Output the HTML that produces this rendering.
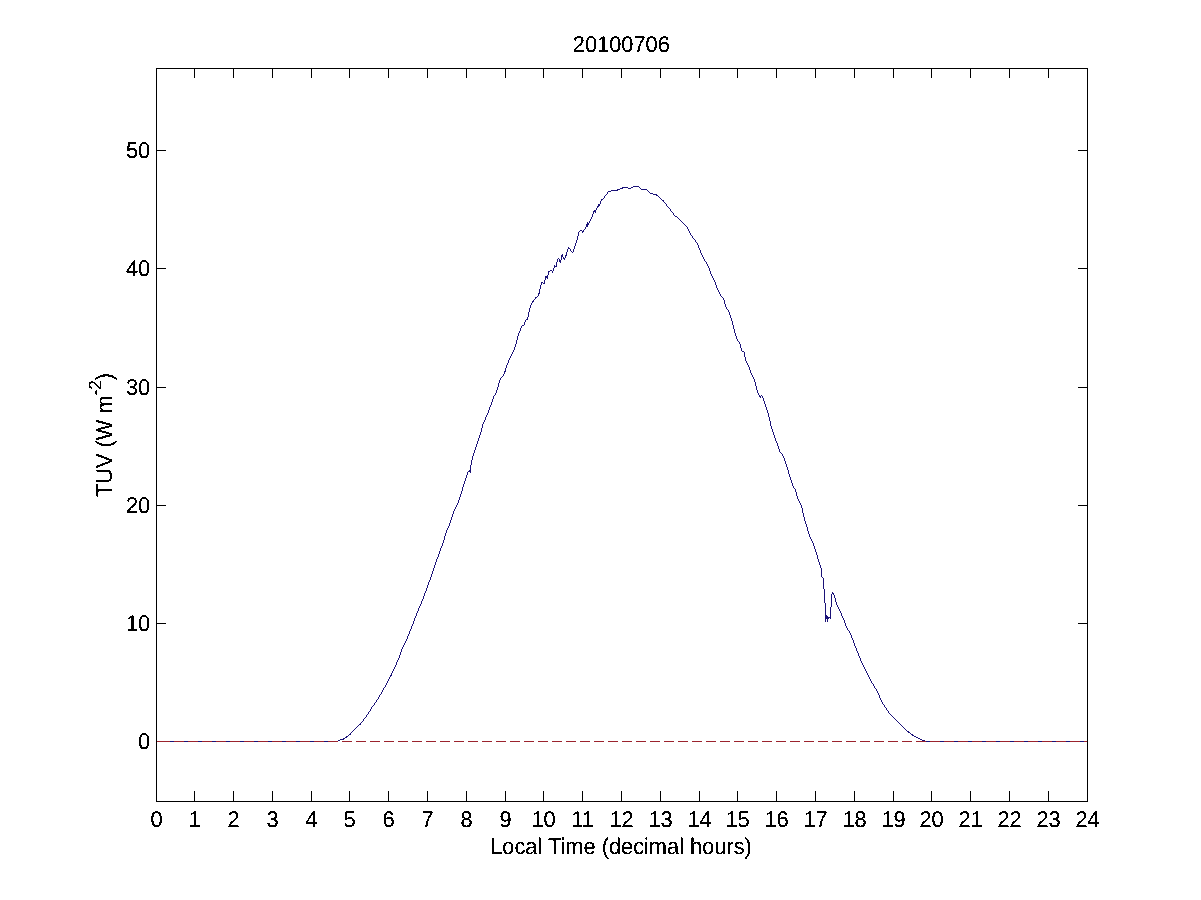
<!DOCTYPE html>
<html><head><meta charset="utf-8"><title>20100706</title>
<style>
html,body{margin:0;padding:0;background:#fff;}
body{width:1201px;height:900px;overflow:hidden;}
svg{display:block;}
text{font-family:"Liberation Sans",sans-serif;font-size:21.8px;fill:#000;text-rendering:geometricPrecision;}
</style></head><body>
<svg width="1201" height="900" viewBox="0 0 1201 900">
<rect x="0" y="0" width="1201" height="900" fill="#fff"/>
<g shape-rendering="crispEdges" fill="#000">
<rect x="156" y="68" width="932" height="1"/>
<rect x="156" y="801" width="932" height="1"/>
<rect x="156" y="68" width="1" height="734"/>
<rect x="1087" y="68" width="1" height="734"/>
<rect x="194" y="69" width="1" height="9"/>
<rect x="194" y="791" width="1" height="10"/>
<rect x="233" y="69" width="1" height="9"/>
<rect x="233" y="791" width="1" height="10"/>
<rect x="272" y="69" width="1" height="9"/>
<rect x="272" y="791" width="1" height="10"/>
<rect x="311" y="69" width="1" height="9"/>
<rect x="311" y="791" width="1" height="10"/>
<rect x="349" y="69" width="1" height="9"/>
<rect x="349" y="791" width="1" height="10"/>
<rect x="388" y="69" width="1" height="9"/>
<rect x="388" y="791" width="1" height="10"/>
<rect x="427" y="69" width="1" height="9"/>
<rect x="427" y="791" width="1" height="10"/>
<rect x="466" y="69" width="1" height="9"/>
<rect x="466" y="791" width="1" height="10"/>
<rect x="505" y="69" width="1" height="9"/>
<rect x="505" y="791" width="1" height="10"/>
<rect x="543" y="69" width="1" height="9"/>
<rect x="543" y="791" width="1" height="10"/>
<rect x="582" y="69" width="1" height="9"/>
<rect x="582" y="791" width="1" height="10"/>
<rect x="621" y="69" width="1" height="9"/>
<rect x="621" y="791" width="1" height="10"/>
<rect x="660" y="69" width="1" height="9"/>
<rect x="660" y="791" width="1" height="10"/>
<rect x="699" y="69" width="1" height="9"/>
<rect x="699" y="791" width="1" height="10"/>
<rect x="737" y="69" width="1" height="9"/>
<rect x="737" y="791" width="1" height="10"/>
<rect x="776" y="69" width="1" height="9"/>
<rect x="776" y="791" width="1" height="10"/>
<rect x="815" y="69" width="1" height="9"/>
<rect x="815" y="791" width="1" height="10"/>
<rect x="854" y="69" width="1" height="9"/>
<rect x="854" y="791" width="1" height="10"/>
<rect x="893" y="69" width="1" height="9"/>
<rect x="893" y="791" width="1" height="10"/>
<rect x="931" y="69" width="1" height="9"/>
<rect x="931" y="791" width="1" height="10"/>
<rect x="970" y="69" width="1" height="9"/>
<rect x="970" y="791" width="1" height="10"/>
<rect x="1009" y="69" width="1" height="9"/>
<rect x="1009" y="791" width="1" height="10"/>
<rect x="1048" y="69" width="1" height="9"/>
<rect x="1048" y="791" width="1" height="10"/>
<rect x="157" y="741" width="9" height="1"/>
<rect x="1078" y="741" width="9" height="1"/>
<rect x="157" y="623" width="9" height="1"/>
<rect x="1078" y="623" width="9" height="1"/>
<rect x="157" y="505" width="9" height="1"/>
<rect x="1078" y="505" width="9" height="1"/>
<rect x="157" y="387" width="9" height="1"/>
<rect x="1078" y="387" width="9" height="1"/>
<rect x="157" y="268" width="9" height="1"/>
<rect x="1078" y="268" width="9" height="1"/>
<rect x="157" y="150" width="9" height="1"/>
<rect x="1078" y="150" width="9" height="1"/>
</g>
<path fill="#1a1278" shape-rendering="crispEdges" d="M157 741h181v1h-181zM338 740h2v1h-2zM340 739h3v1h-3zM343 738h1v2h-1zM344 738h1v1h-1zM345 737h1v1h-1zM346 736h1v2h-1zM347 736h1v1h-1zM348 735h1v1h-1zM349 734h1v1h-1zM350 733h1v2h-1zM351 732h1v1h-1zM352 731h1v1h-1zM353 730h1v1h-1zM354 729h1v1h-1zM355 728h1v1h-1zM356 727h1v1h-1zM357 726h1v1h-1zM358 725h1v1h-1zM359 724h1v1h-1zM360 723h1v2h-1zM361 722h1v1h-1zM362 721h1v1h-1zM363 719h1v2h-1zM364 718h1v1h-1zM365 717h1v1h-1zM366 715h1v2h-1zM367 714h1v1h-1zM368 712h1v2h-1zM369 711h1v1h-1zM370 709h1v2h-1zM371 707h1v2h-1zM372 706h1v1h-1zM373 705h1v1h-1zM374 703h1v2h-1zM375 702h1v1h-1zM376 700h1v2h-1zM377 699h1v1h-1zM378 697h1v2h-1zM379 695h1v2h-1zM380 694h1v1h-1zM381 692h1v2h-1zM382 690h1v2h-1zM383 688h1v2h-1zM384 687h1v1h-1zM385 685h1v2h-1zM386 683h1v2h-1zM387 681h1v2h-1zM388 679h1v2h-1zM389 677h1v2h-1zM390 675h1v2h-1zM391 673h1v3h-1zM392 671h1v2h-1zM393 669h1v2h-1zM394 667h1v2h-1zM395 665h1v2h-1zM396 662h1v3h-1zM397 660h1v2h-1zM398 658h1v2h-1zM399 655h1v3h-1zM400 652h1v3h-1zM401 649h1v3h-1zM402 647h1v2h-1zM403 645h1v2h-1zM404 643h1v2h-1zM405 641h1v2h-1zM406 639h1v2h-1zM407 636h1v3h-1zM408 634h1v2h-1zM409 631h1v3h-1zM410 629h1v2h-1zM411 626h1v3h-1zM412 624h1v2h-1zM413 621h1v3h-1zM414 618h1v3h-1zM415 616h1v2h-1zM416 613h1v3h-1zM417 611h1v2h-1zM418 608h1v3h-1zM419 606h1v2h-1zM420 604h1v2h-1zM421 601h1v3h-1zM422 599h1v2h-1zM423 596h1v3h-1zM424 593h1v3h-1zM425 591h1v2h-1zM426 588h1v3h-1zM427 585h1v3h-1zM428 582h1v3h-1zM429 580h1v2h-1zM430 577h1v3h-1zM431 574h1v3h-1zM432 571h1v3h-1zM433 568h1v3h-1zM434 565h1v3h-1zM435 562h1v3h-1zM436 559h1v3h-1zM437 557h1v2h-1zM438 554h1v3h-1zM439 551h1v3h-1zM440 548h1v3h-1zM441 546h1v2h-1zM442 543h1v3h-1zM443 540h1v3h-1zM444 536h1v4h-1zM445 533h1v3h-1zM446 530h1v3h-1zM447 528h1v2h-1zM448 526h1v2h-1zM449 523h1v3h-1zM450 520h1v3h-1zM451 517h1v3h-1zM452 514h1v3h-1zM453 511h1v3h-1zM454 509h1v2h-1zM455 507h1v2h-1zM456 505h1v2h-1zM457 503h1v2h-1zM458 500h1v3h-1zM459 497h1v3h-1zM460 494h1v3h-1zM461 491h1v3h-1zM462 487h1v4h-1zM463 484h1v3h-1zM464 481h1v3h-1zM465 478h1v3h-1zM466 475h1v3h-1zM467 472h1v3h-1zM468 471h1v1h-1zM469 470h1v2h-1zM470 465h1v8h-1zM471 460h1v5h-1zM472 456h1v4h-1zM473 453h1v3h-1zM474 450h1v3h-1zM475 447h1v3h-1zM476 444h1v3h-1zM477 441h1v3h-1zM478 438h1v3h-1zM479 435h1v3h-1zM480 432h1v3h-1zM481 428h1v4h-1zM482 424h1v4h-1zM483 422h1v2h-1zM484 420h1v2h-1zM485 417h1v3h-1zM486 415h1v2h-1zM487 413h1v2h-1zM488 410h1v3h-1zM489 407h1v3h-1zM490 405h1v2h-1zM491 402h1v3h-1zM492 399h1v3h-1zM493 396h1v3h-1zM494 395h1v1h-1zM495 393h1v2h-1zM496 390h1v3h-1zM497 387h1v3h-1zM498 383h1v4h-1zM499 380h1v3h-1zM500 378h1v2h-1zM501 377h1v1h-1zM502 376h1v1h-1zM503 374h1v2h-1zM504 371h1v3h-1zM505 368h1v4h-1zM506 365h1v3h-1zM507 363h1v2h-1zM508 360h1v3h-1zM509 358h1v2h-1zM510 356h1v2h-1zM511 354h1v2h-1zM512 352h1v2h-1zM513 350h1v2h-1zM514 347h1v3h-1zM515 344h1v3h-1zM516 340h1v4h-1zM517 336h1v4h-1zM518 333h1v3h-1zM519 331h1v2h-1zM520 328h1v3h-1zM521 326h1v2h-1zM522 325h2v1h-2zM524 322h1v3h-1zM525 320h1v2h-1zM526 319h1v1h-1zM527 317h1v3h-1zM528 312h1v5h-1zM529 308h1v4h-1zM530 305h1v3h-1zM531 303h1v2h-1zM532 301h1v2h-1zM533 300h1v2h-1zM534 299h1v1h-1zM535 297h1v2h-1zM536 297h1v1h-1zM537 296h1v1h-1zM538 293h1v3h-1zM539 289h1v5h-1zM540 285h1v4h-1zM541 282h1v3h-1zM542 282h1v1h-1zM543 283h1v1h-1zM544 280h1v4h-1zM545 276h1v4h-1zM546 276h1v2h-1zM547 275h1v4h-1zM548 271h1v4h-1zM549 271h1v1h-1zM550 270h2v1h-2zM552 271h1v2h-1zM553 268h1v3h-1zM554 265h1v3h-1zM555 266h1v1h-1zM556 262h1v5h-1zM557 259h1v3h-1zM558 258h1v1h-1zM559 259h1v3h-1zM560 260h1v3h-1zM561 255h1v5h-1zM562 254h1v3h-1zM563 257h1v2h-1zM564 258h1v2h-1zM565 255h1v3h-1zM566 252h1v4h-1zM567 249h1v3h-1zM568 247h1v2h-1zM569 248h1v1h-1zM570 249h1v2h-1zM571 251h1v1h-1zM572 252h1v1h-1zM573 249h1v3h-1zM574 246h1v3h-1zM575 243h1v3h-1zM576 240h1v3h-1zM577 236h1v4h-1zM578 232h1v4h-1zM579 231h1v1h-1zM580 230h2v1h-2zM582 231h1v2h-1zM583 230h1v2h-1zM584 229h1v1h-1zM585 227h1v2h-1zM586 224h1v3h-1zM587 222h1v5h-1zM588 223h1v2h-1zM589 221h1v2h-1zM590 219h1v2h-1zM591 217h1v2h-1zM592 214h1v3h-1zM593 211h1v3h-1zM594 210h1v2h-1zM595 210h1v3h-1zM596 208h1v2h-1zM597 206h1v2h-1zM598 204h1v3h-1zM599 204h1v2h-1zM600 201h1v3h-1zM601 199h1v2h-1zM602 199h1v1h-1zM603 198h1v1h-1zM604 196h1v2h-1zM605 195h1v1h-1zM606 194h1v1h-1zM607 192h1v2h-1zM608 191h3v1h-3zM611 190h6v1h-6zM617 189h1v2h-1zM618 189h2v1h-2zM620 188h2v1h-2zM622 187h1v2h-1zM623 187h5v1h-5zM628 188h3v1h-3zM631 187h2v1h-2zM633 186h6v1h-6zM639 187h1v1h-1zM640 188h1v1h-1zM641 189h6v1h-6zM647 190h1v1h-1zM648 191h1v1h-1zM649 192h1v1h-1zM650 193h3v1h-3zM653 194h3v1h-3zM656 194h1v2h-1zM657 195h1v1h-1zM658 196h1v1h-1zM659 197h1v1h-1zM660 198h1v1h-1zM661 199h1v1h-1zM662 200h1v1h-1zM663 200h1v2h-1zM664 202h1v1h-1zM665 203h1v1h-1zM666 204h1v2h-1zM667 206h1v1h-1zM668 207h1v1h-1zM669 208h1v1h-1zM670 209h1v2h-1zM671 211h1v1h-1zM672 212h1v1h-1zM673 213h1v2h-1zM674 215h1v1h-1zM675 216h2v1h-2zM677 217h1v1h-1zM678 218h1v1h-1zM679 219h1v1h-1zM680 220h1v1h-1zM681 221h1v1h-1zM682 222h1v1h-1zM683 223h1v1h-1zM684 224h1v1h-1zM685 225h1v1h-1zM686 226h1v1h-1zM687 227h1v2h-1zM688 229h1v2h-1zM689 231h1v2h-1zM690 233h1v2h-1zM691 235h1v1h-1zM692 236h1v2h-1zM693 238h1v1h-1zM694 239h1v1h-1zM695 240h1v2h-1zM696 242h1v1h-1zM697 243h1v2h-1zM698 245h1v3h-1zM699 248h1v2h-1zM700 250h1v3h-1zM701 253h1v2h-1zM702 255h1v2h-1zM703 257h1v2h-1zM704 259h1v2h-1zM705 261h1v1h-1zM706 262h1v2h-1zM707 264h1v2h-1zM708 266h1v2h-1zM709 268h1v3h-1zM710 271h1v3h-1zM711 274h1v2h-1zM712 276h1v2h-1zM713 278h1v2h-1zM714 280h1v2h-1zM715 282h1v3h-1zM716 285h1v3h-1zM717 288h1v2h-1zM718 290h1v2h-1zM719 292h1v2h-1zM720 294h1v2h-1zM721 296h1v1h-1zM722 297h1v1h-1zM723 298h1v2h-1zM724 300h1v4h-1zM725 304h1v3h-1zM726 307h1v2h-1zM727 309h1v1h-1zM728 310h1v2h-1zM729 312h1v3h-1zM730 315h1v3h-1zM731 318h1v3h-1zM732 321h1v4h-1zM733 325h1v4h-1zM734 329h1v4h-1zM735 333h1v3h-1zM736 336h1v3h-1zM737 339h1v2h-1zM738 341h1v1h-1zM739 342h1v2h-1zM740 344h1v4h-1zM741 348h1v3h-1zM742 351h2v1h-2zM744 352h1v5h-1zM745 357h1v4h-1zM746 361h1v2h-1zM747 363h1v2h-1zM748 365h1v2h-1zM749 367h1v3h-1zM750 370h1v3h-1zM751 373h1v2h-1zM752 375h1v2h-1zM753 377h1v2h-1zM754 379h1v3h-1zM755 382h1v4h-1zM756 386h1v4h-1zM757 390h1v3h-1zM758 393h1v2h-1zM759 395h1v2h-1zM760 396h1v2h-1zM761 395h1v1h-1zM762 396h1v2h-1zM763 398h1v3h-1zM764 401h1v3h-1zM765 404h1v3h-1zM766 407h1v3h-1zM767 410h1v3h-1zM768 413h1v4h-1zM769 417h1v4h-1zM770 421h1v5h-1zM771 426h1v3h-1zM772 429h1v3h-1zM773 432h1v3h-1zM774 435h1v3h-1zM775 438h1v3h-1zM776 441h1v2h-1zM777 443h1v3h-1zM778 446h1v3h-1zM779 449h1v3h-1zM780 452h1v1h-1zM781 453h1v1h-1zM782 454h1v2h-1zM783 456h1v2h-1zM784 458h1v3h-1zM785 461h1v3h-1zM786 464h1v3h-1zM787 467h1v3h-1zM788 470h1v4h-1zM789 474h1v3h-1zM790 477h1v3h-1zM791 480h1v3h-1zM792 483h1v3h-1zM793 486h1v2h-1zM794 488h1v1h-1zM795 489h1v3h-1zM796 492h1v4h-1zM797 496h1v3h-1zM798 499h1v2h-1zM799 501h1v2h-1zM800 503h1v2h-1zM801 505h1v3h-1zM802 508h1v5h-1zM803 513h1v4h-1zM804 517h1v4h-1zM805 521h1v3h-1zM806 524h1v3h-1zM807 527h1v4h-1zM808 531h1v3h-1zM809 534h1v3h-1zM810 537h1v2h-1zM811 539h1v2h-1zM812 541h1v2h-1zM813 543h1v3h-1zM814 546h1v3h-1zM815 549h1v3h-1zM816 552h1v3h-1zM817 555h1v4h-1zM818 559h1v3h-1zM819 562h1v3h-1zM820 565h1v3h-1zM821 568h1v9h-1zM822 577h1v1h-1zM823 578h1v11h-1zM824 589h1v14h-1zM825 603h1v19h-1zM826 615h1v4h-1zM827 616h1v6h-1zM828 617h1v2h-1zM829 617h1v1h-1zM830 607h1v12h-1zM831 594h1v13h-1zM832 592h1v2h-1zM833 593h1v2h-1zM834 595h1v3h-1zM835 598h1v4h-1zM836 602h1v3h-1zM837 605h1v2h-1zM838 607h1v2h-1zM839 609h1v2h-1zM840 611h1v2h-1zM841 613h1v3h-1zM842 616h1v2h-1zM843 618h1v2h-1zM844 620h1v3h-1zM845 623h1v3h-1zM846 626h1v2h-1zM847 628h1v2h-1zM848 630h1v1h-1zM849 631h1v2h-1zM850 633h1v2h-1zM851 635h1v3h-1zM852 638h1v2h-1zM853 640h1v3h-1zM854 643h1v3h-1zM855 646h1v2h-1zM856 648h1v3h-1zM857 651h1v2h-1zM858 653h1v3h-1zM859 656h1v2h-1zM860 658h1v3h-1zM861 661h1v2h-1zM862 663h1v2h-1zM863 665h1v2h-1zM864 667h1v2h-1zM865 669h1v2h-1zM866 671h1v2h-1zM867 673h1v2h-1zM868 675h1v2h-1zM869 677h1v2h-1zM870 679h1v2h-1zM871 681h1v2h-1zM872 683h1v1h-1zM873 684h1v2h-1zM874 686h1v2h-1zM875 688h1v1h-1zM876 689h1v2h-1zM877 691h1v2h-1zM878 693h1v2h-1zM879 695h1v3h-1zM880 698h1v2h-1zM881 700h1v2h-1zM882 702h1v2h-1zM883 704h1v1h-1zM884 705h1v2h-1zM885 707h1v1h-1zM886 708h1v2h-1zM887 710h1v1h-1zM888 711h1v2h-1zM889 713h1v1h-1zM890 714h1v1h-1zM891 715h1v1h-1zM892 716h1v1h-1zM893 717h1v1h-1zM894 718h1v1h-1zM895 719h1v1h-1zM896 720h1v1h-1zM897 721h1v1h-1zM898 722h1v1h-1zM899 723h1v1h-1zM900 724h1v1h-1zM901 725h1v1h-1zM902 726h1v1h-1zM903 727h1v1h-1zM904 728h1v1h-1zM905 729h1v1h-1zM906 730h1v1h-1zM907 731h1v1h-1zM908 731h1v2h-1zM909 732h1v1h-1zM910 733h1v1h-1zM911 734h1v1h-1zM912 734h1v2h-1zM913 735h1v1h-1zM914 736h2v1h-2zM916 737h2v1h-2zM918 738h2v1h-2zM920 739h2v1h-2zM922 740h2v1h-2zM924 740h1v2h-1zM925 741h162v1h-162z"/>
<g shape-rendering="crispEdges" fill="#9b232d">
<rect x="157" y="741" width="13" height="1"/>
<rect x="174" y="741" width="10" height="1"/>
<rect x="188" y="741" width="10" height="1"/>
<rect x="202" y="741" width="10" height="1"/>
<rect x="216" y="741" width="10" height="1"/>
<rect x="230" y="741" width="10" height="1"/>
<rect x="244" y="741" width="10" height="1"/>
<rect x="258" y="741" width="10" height="1"/>
<rect x="272" y="741" width="10" height="1"/>
<rect x="286" y="741" width="10" height="1"/>
<rect x="300" y="741" width="10" height="1"/>
<rect x="314" y="741" width="10" height="1"/>
<rect x="328" y="741" width="10" height="1"/>
<rect x="342" y="741" width="10" height="1"/>
<rect x="356" y="741" width="10" height="1"/>
<rect x="370" y="741" width="10" height="1"/>
<rect x="384" y="741" width="10" height="1"/>
<rect x="398" y="741" width="10" height="1"/>
<rect x="412" y="741" width="10" height="1"/>
<rect x="426" y="741" width="10" height="1"/>
<rect x="440" y="741" width="10" height="1"/>
<rect x="454" y="741" width="10" height="1"/>
<rect x="468" y="741" width="10" height="1"/>
<rect x="482" y="741" width="10" height="1"/>
<rect x="496" y="741" width="10" height="1"/>
<rect x="510" y="741" width="10" height="1"/>
<rect x="524" y="741" width="10" height="1"/>
<rect x="538" y="741" width="10" height="1"/>
<rect x="552" y="741" width="10" height="1"/>
<rect x="566" y="741" width="10" height="1"/>
<rect x="580" y="741" width="10" height="1"/>
<rect x="594" y="741" width="10" height="1"/>
<rect x="608" y="741" width="10" height="1"/>
<rect x="622" y="741" width="10" height="1"/>
<rect x="636" y="741" width="10" height="1"/>
<rect x="650" y="741" width="10" height="1"/>
<rect x="664" y="741" width="10" height="1"/>
<rect x="678" y="741" width="10" height="1"/>
<rect x="692" y="741" width="10" height="1"/>
<rect x="706" y="741" width="10" height="1"/>
<rect x="720" y="741" width="10" height="1"/>
<rect x="734" y="741" width="10" height="1"/>
<rect x="748" y="741" width="10" height="1"/>
<rect x="762" y="741" width="10" height="1"/>
<rect x="776" y="741" width="10" height="1"/>
<rect x="790" y="741" width="10" height="1"/>
<rect x="804" y="741" width="10" height="1"/>
<rect x="818" y="741" width="10" height="1"/>
<rect x="832" y="741" width="10" height="1"/>
<rect x="846" y="741" width="10" height="1"/>
<rect x="860" y="741" width="10" height="1"/>
<rect x="874" y="741" width="10" height="1"/>
<rect x="888" y="741" width="10" height="1"/>
<rect x="902" y="741" width="10" height="1"/>
<rect x="916" y="741" width="10" height="1"/>
<rect x="930" y="741" width="10" height="1"/>
<rect x="944" y="741" width="10" height="1"/>
<rect x="958" y="741" width="10" height="1"/>
<rect x="972" y="741" width="10" height="1"/>
<rect x="986" y="741" width="10" height="1"/>
<rect x="1000" y="741" width="10" height="1"/>
<rect x="1014" y="741" width="10" height="1"/>
<rect x="1028" y="741" width="10" height="1"/>
<rect x="1042" y="741" width="10" height="1"/>
<rect x="1056" y="741" width="10" height="1"/>
<rect x="1070" y="741" width="10" height="1"/>
<rect x="1084" y="741" width="3" height="1"/>
</g>
<defs><filter id="th" x="0" y="0" width="1201" height="900" filterUnits="userSpaceOnUse" color-interpolation-filters="sRGB"><feComponentTransfer><feFuncA type="discrete" tableValues="0 0 1 1 1"/></feComponentTransfer></filter></defs><g filter="url(#th)">
<text transform="translate(621.3,52) scale(1,1.04)" text-anchor="middle">20100706</text>
<text transform="translate(156.5,827) scale(1,1.04)" text-anchor="middle">0</text>
<text transform="translate(194.5,827) scale(1,1.04)" text-anchor="middle">1</text>
<text transform="translate(233.5,827) scale(1,1.04)" text-anchor="middle">2</text>
<text transform="translate(272.5,827) scale(1,1.04)" text-anchor="middle">3</text>
<text transform="translate(311.5,827) scale(1,1.04)" text-anchor="middle">4</text>
<text transform="translate(349.5,827) scale(1,1.04)" text-anchor="middle">5</text>
<text transform="translate(388.5,827) scale(1,1.04)" text-anchor="middle">6</text>
<text transform="translate(427.5,827) scale(1,1.04)" text-anchor="middle">7</text>
<text transform="translate(466.5,827) scale(1,1.04)" text-anchor="middle">8</text>
<text transform="translate(505.5,827) scale(1,1.04)" text-anchor="middle">9</text>
<text transform="translate(543.5,827) scale(1,1.04)" text-anchor="middle">10</text>
<text transform="translate(582.5,827) scale(1,1.04)" text-anchor="middle">11</text>
<text transform="translate(621.5,827) scale(1,1.04)" text-anchor="middle">12</text>
<text transform="translate(660.5,827) scale(1,1.04)" text-anchor="middle">13</text>
<text transform="translate(699.5,827) scale(1,1.04)" text-anchor="middle">14</text>
<text transform="translate(737.5,827) scale(1,1.04)" text-anchor="middle">15</text>
<text transform="translate(776.5,827) scale(1,1.04)" text-anchor="middle">16</text>
<text transform="translate(815.5,827) scale(1,1.04)" text-anchor="middle">17</text>
<text transform="translate(854.5,827) scale(1,1.04)" text-anchor="middle">18</text>
<text transform="translate(893.5,827) scale(1,1.04)" text-anchor="middle">19</text>
<text transform="translate(931.5,827) scale(1,1.04)" text-anchor="middle">20</text>
<text transform="translate(970.5,827) scale(1,1.04)" text-anchor="middle">21</text>
<text transform="translate(1009.5,827) scale(1,1.04)" text-anchor="middle">22</text>
<text transform="translate(1048.5,827) scale(1,1.04)" text-anchor="middle">23</text>
<text transform="translate(1087.5,827) scale(1,1.04)" text-anchor="middle">24</text>
<text transform="translate(150.2,749) scale(1,1.04)" text-anchor="end">0</text>
<text transform="translate(150.2,631) scale(1,1.04)" text-anchor="end">10</text>
<text transform="translate(150.2,513) scale(1,1.04)" text-anchor="end">20</text>
<text transform="translate(150.2,395) scale(1,1.04)" text-anchor="end">30</text>
<text transform="translate(150.2,276) scale(1,1.04)" text-anchor="end">40</text>
<text transform="translate(150.2,158) scale(1,1.04)" text-anchor="end">50</text>
<text transform="translate(621,854) scale(1,1.04)" text-anchor="middle">Local Time (decimal hours)</text>
<text transform="translate(112,435) rotate(-90) scale(1,1.04)" text-anchor="middle">TUV (W m<tspan font-size="17" dy="-11">-2</tspan><tspan dy="11">)</tspan></text>
</g>
</svg></body></html>
